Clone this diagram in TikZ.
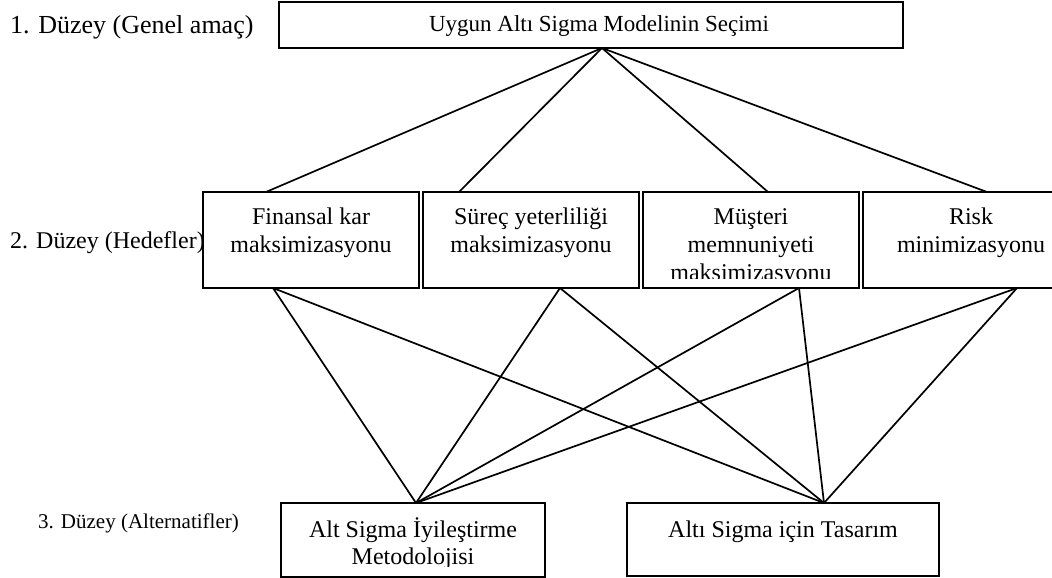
\documentclass[tikz,border=0pt]{standalone}
\usepackage{fontspec}
\setmainfont{Liberation Serif}
\newcommand{\firstline}{\rule{0pt}{22pt}}
\begin{document}
\begin{tikzpicture}[x=1pt,y=-1pt,
  box/.style={draw, line width=1.8pt, inner sep=0pt},
  txt/.style={font={\fontsize{24}{28}\selectfont}, align=center, inner sep=0pt, anchor=base},
  mtxt/.style={font={\fontsize{24}{28}\selectfont}, align=center, inner sep=0pt, anchor=north},
  link/.style={line width=1.7pt}]
\useasboundingbox (0,0) rectangle (1052,578);

% level labels
\node[font={\fontsize{26}{30}\selectfont}, inner sep=0pt, anchor=base west] (l1) at (10,34) {1. Düzey (Genel amaç)};
\node[font={\fontsize{24}{28}\selectfont}, inner sep=0pt, anchor=base west] (l2) at (10,248) {2. Düzey (Hedefler)};
\node[font={\fontsize{21}{25}\selectfont}, inner sep=0pt, anchor=base east] (l3) at (239,528) {3. Düzey (Alternatifler)};

% level 1
\node[box, minimum width=624pt, minimum height=46pt] (goal) at (591,25) {};
\node[txt, font={\fontsize{23}{28}\selectfont}] (goalt) at (599,32) {Uygun Altı Sigma Modelinin Seçimi};

% level 2
\node[box, minimum width=216pt, minimum height=96pt] (f1) at (311,240) {};
\node[box, minimum width=216pt, minimum height=96pt] (f2) at (531,240) {};
\node[box, minimum width=216pt, minimum height=96pt] (f3) at (751,240) {};
\node[box, minimum width=216pt, minimum height=96pt] (f4) at (971,240) {};
\node[mtxt] (f1t) at (311,202) {\firstline Finansal kar\\maksimizasyonu};
\node[mtxt] (f2t) at (531,202) {\firstline Süreç yeterliliği\\maksimizasyonu};
\begin{scope}
  \clip (645,194) rectangle (857,278);
  \node[mtxt] (f3t) at (751,202) {\firstline Müşteri\\memnuniyeti\\maksimizasyonu};
\end{scope}
\node[mtxt] (f4t) at (971,202) {\firstline Risk\\minimizasyonu};

% level 3
\node[box, minimum width=264pt, minimum height=74pt] (a1) at (413,540) {};
\node[box, minimum width=312pt, minimum height=73pt] (a2) at (783,539.5) {};
\begin{scope}
  \clip (283,505) rectangle (543,566);
  \node[mtxt, font={\fontsize{24}{27}\selectfont}] (a1t) at (413,515) {\firstline Alt Sigma İyileştirme\\Metodolojisi};
\end{scope}
\node[txt] (a2t) at (783,537) {Altı Sigma için Tasarım};

% connector end points on the box borders
\coordinate (g0) at (602,48);
\coordinate (f1n) at (266,192);
\coordinate (f2n) at (459,192);
\coordinate (f3n) at (768,192);
\coordinate (f4n) at (987,192);
\coordinate (f1s) at (273,288);
\coordinate (f2s) at (560,288);
\coordinate (f3s) at (799,288);
\coordinate (f4s) at (1017,288);
\coordinate (c1) at (416,503);
\coordinate (c2) at (824,503);

\draw[link] (g0) -- (f1n);
\draw[link] (g0) -- (f2n);
\draw[link] (g0) -- (f3n);
\draw[link] (g0) -- (f4n);
\foreach \s in {f1s,f2s,f3s,f4s} {
  \draw[link] (\s) -- (c1);
  \draw[link] (\s) -- (c2);
}
\end{tikzpicture}
\end{document}
